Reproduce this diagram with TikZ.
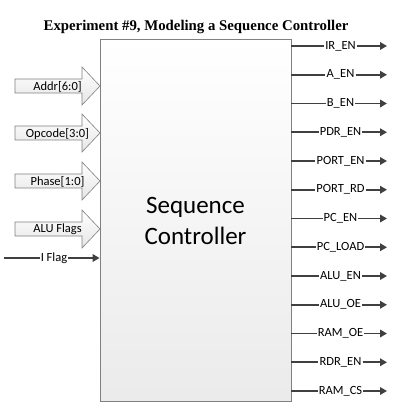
\documentclass[tikz,border=0pt]{standalone}
\usepackage{fontspec}
\setmainfont{Liberation Serif}
\newfontfamily\calib{Carlito}
\usetikzlibrary{arrows.meta}
\definecolor{linec}{HTML}{404040}
\definecolor{edgec}{HTML}{808080}
\tikzset{
  sigline/.style={draw=linec, line width=1.8pt},
  sigarrow/.style={sigline, -{Triangle[length=7pt,width=7.5pt]}},
  siglabel/.style={font=\calib\fontsize{12.5}{14}\selectfont, inner sep=1pt, text=black},
  blockarrow/.style={draw=edgec, line width=0.6pt, top color=white, bottom color=black!10},
}
\begin{document}
\begin{tikzpicture}[x=1pt,y=-1pt]
\useasboundingbox (0,0) rectangle (409,419);
\node[font=\bfseries\fontsize{14.8}{17}\selectfont] (title) at (196,27) {Experiment \#9, Modeling a Sequence Controller};
\node[draw=edgec, line width=0.8pt, top color=white, bottom color=black!8, minimum width=191pt, minimum height=362pt, inner sep=0pt] (ctrl) at (195.5,220) {};
\node[font=\calib\fontsize{25}{31}\selectfont, align=center] (ctrltext) at (195.5,221) {Sequence\\Controller};
% input block arrows
\foreach \y/\t/\n in {86/{Addr[6:0]}/addr, 133/{Opcode[3:0]}/opc, 181/{Phase[1:0]}/phase, 229/{ALU Flags}/aluf}{
  \path[blockarrow] (15,\y-7) -- (82,\y-7) -- (82,\y-19) -- (100,\y) -- (82,\y+19) -- (82,\y+7) -- (15,\y+7) -- cycle;
  \node[siglabel] (\n) at (57.5,\y+0.5) {\t};
}
\coordinate (iflagstart) at (4,258);
\coordinate (iflagend) at (ctrl.west |- 0,258);
\node[siglabel] (iflag) at (54,258) {I Flag};
\draw[sigline] (iflagstart) -- (iflag.west);
\draw[sigarrow] (iflag.east) -- (iflagend);
% outputs
\foreach \t/\n [count=\i from 0] in {IR\_EN/iren, A\_EN/aen, B\_EN/ben, PDR\_EN/pdren, PORT\_EN/porten, PORT\_RD/portrd, PC\_EN/pcen, PC\_LOAD/pcload, ALU\_EN/aluen, ALU\_OE/aluoe, RAM\_OE/ramoe, RDR\_EN/rdren, RAM\_CS/ramcs}{
  \pgfmathsetmacro{\yy}{46+\i*28.75}
  \coordinate (\n s) at (ctrl.east |- 0,\yy);
  \coordinate (\n e) at (387,\yy);
  \node[siglabel] (\n) at (340.5,\yy) {\t};
  \draw[sigline] (\n s) -- (\n.west);
  \draw[sigarrow] (\n.east) -- (\n e);
}
\end{tikzpicture}
\end{document}
